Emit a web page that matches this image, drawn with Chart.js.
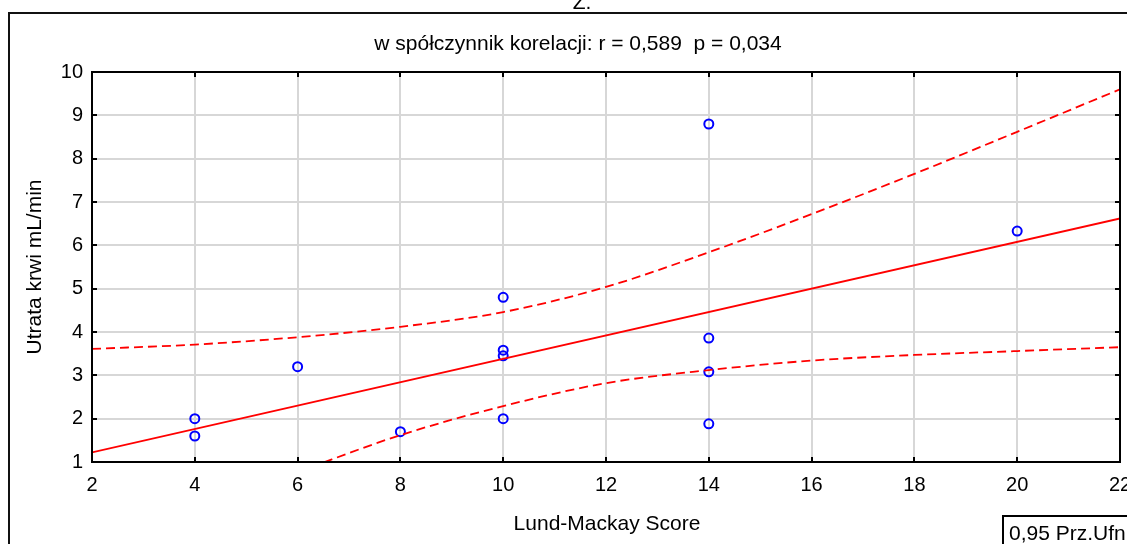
<!DOCTYPE html>
<html>
<head>
<meta charset="utf-8">
<script src="https://cdn.jsdelivr.net/npm/chart.js@4.4.1/dist/chart.umd.min.js"></script>
<style>
  html, body { margin: 0; padding: 0; background: #fff; overflow: hidden; }
  #wrap { width: 1127px; height: 544px; position: relative; }
</style>
</head>
<body>
<div id="wrap"><canvas id="c"></canvas></div>
<script>
// Lund-Mackay score vs. blood loss (mL/min)
const lundMackay = [4, 4, 6, 8, 10, 10, 10, 10, 14, 14, 14, 14, 20];
const bloodLoss = [2.0, 1.6, 3.2, 1.7, 4.8, 3.58, 3.45, 2.0, 8.8, 3.86, 3.08, 1.88, 6.33];

// regression line
const fitX = [2, 22];
const fitY = [1.22, 6.62];

// 0.95 confidence band
const bandX = [2, 4, 6, 8, 10, 12, 14, 16, 18, 20, 22];
const upperBand = [3.61, 3.71, 3.88, 4.12, 4.46, 5.04, 5.84, 6.72, 7.65, 8.62, 9.6];
const lowerBand = [null, null, 0.77, 1.62, 2.29, 2.82, 3.12, 3.34, 3.47, 3.56, 3.65];

const xTicks = [2, 4, 6, 8, 10, 12, 14, 16, 18, 20, 22];
const yTicks = [1, 2, 3, 4, 5, 6, 7, 8, 9, 10];

const titleText = 'w spółczynnik korelacji: r = 0,589  p = 0,034';
const xTitle = 'Lund-Mackay Score';
const yTitle = 'Utrata krwi mL/min';
const legendText = '0,95 Prz.Ufn';

const FONT = '"Liberation Sans", Arial, sans-serif';
Chart.defaults.font.family = FONT;
Chart.defaults.font.size = 20;
Chart.defaults.color = '#000';

function pts(xs, ys) {
  return xs.map((x, i) => ({ x: x, y: ys[i] })).filter(p => p.y !== null);
}

const framePlugin = {
  id: 'frame',
  beforeDraw(chart) {
    const ctx = chart.ctx;
    ctx.save();
    ctx.fillStyle = '#fff';
    ctx.fillRect(0, 0, chart.width, chart.height);
    // outer panel frame
    ctx.strokeStyle = '#111';
    ctx.lineWidth = 2;
    ctx.beginPath();
    ctx.moveTo(9, chart.height + 2);
    ctx.lineTo(9, 13);
    ctx.lineTo(chart.width + 2, 13);
    ctx.stroke();
    ctx.fillStyle = '#000';
    ctx.textAlign = 'center';
    ctx.textBaseline = 'alphabetic';
    ctx.font = '21px ' + FONT;
    ctx.fillText('Z.', 582, 9);
    ctx.textBaseline = 'middle';
    ctx.fillText(titleText, 578, 44);
    ctx.restore();
  },
  afterDraw(chart) {
    const ctx = chart.ctx;
    const a = chart.chartArea;
    const xs = chart.scales.x, ys = chart.scales.y;
    ctx.save();
    ctx.strokeStyle = '#000';
    ctx.lineWidth = 2;
    ctx.strokeRect(a.left, a.top, a.right - a.left, a.bottom - a.top);
    // inward ticks on all four sides
    ctx.beginPath();
    xTicks.forEach(v => {
      const px = Math.round(xs.getPixelForValue(v));
      ctx.moveTo(px, a.top); ctx.lineTo(px, a.top + 5);
      ctx.moveTo(px, a.bottom); ctx.lineTo(px, a.bottom - 5);
    });
    yTicks.forEach(v => {
      const py = Math.round(ys.getPixelForValue(v));
      ctx.moveTo(a.left, py); ctx.lineTo(a.left + 5, py);
      ctx.moveTo(a.right, py); ctx.lineTo(a.right - 5, py);
    });
    ctx.stroke();

    ctx.fillStyle = '#000';
    ctx.font = '21px ' + FONT;
    ctx.textAlign = 'center';
    ctx.textBaseline = 'middle';
    ctx.fillText(xTitle, 607, 524);
    ctx.save();
    ctx.translate(35, 267);
    ctx.rotate(-Math.PI / 2);
    ctx.fillText(yTitle, 0, 0);
    ctx.restore();

    // legend box
    ctx.lineWidth = 2;
    ctx.strokeRect(1003, 516, 140, 40);
    ctx.textAlign = 'left';
    ctx.fillText(legendText, 1009, 534);
    ctx.restore();
  }
};

new Chart(document.getElementById('c'), {
  type: 'scatter',
  data: {
    datasets: [
      {
        label: 'upper',
        data: pts(bandX, upperBand),
        showLine: true,
        borderColor: '#ff0000',
        borderWidth: 1.8,
        borderDash: [9, 5],
        pointRadius: 0,
        cubicInterpolationMode: 'monotone'
      },
      {
        label: 'lower',
        data: pts(bandX, lowerBand),
        showLine: true,
        borderColor: '#ff0000',
        borderWidth: 1.8,
        borderDash: [9, 5],
        pointRadius: 0,
        cubicInterpolationMode: 'monotone'
      },
      {
        label: 'fit',
        data: pts(fitX, fitY),
        showLine: true,
        borderColor: '#ff0000',
        borderWidth: 1.8,
        pointRadius: 0
      },
      {
        label: 'data',
        data: pts(lundMackay, bloodLoss),
        pointRadius: 4.5,
        pointBorderWidth: 2,
        borderColor: '#0000ff',
        backgroundColor: 'rgba(0,0,0,0)'
      }
    ]
  },
  options: {
    responsive: true,
    maintainAspectRatio: false,
    animation: false,
    devicePixelRatio: 1,
    layout: { padding: { top: 72, right: 7, left: 0, bottom: 0 } },
    plugins: {
      legend: { display: false },
      tooltip: { enabled: false }
    },
    scales: {
      x: {
        type: 'linear',
        min: 2,
        max: 22,
        afterBuildTicks: s => { s.ticks = xTicks.map(v => ({ value: v })); },
        afterFit: s => { s.height = 82; s.paddingLeft = 0; s.paddingRight = 0; },
        grid: { color: '#d7d7d7', lineWidth: 2, drawTicks: false },
        border: { display: false },
        ticks: { padding: 11, maxRotation: 0, autoSkip: false, font: { size: 20 } }
      },
      y: {
        type: 'linear',
        min: 1,
        max: 10,
        afterBuildTicks: s => { s.ticks = yTicks.map(v => ({ value: v })); },
        afterFit: s => { s.width = 92; s.paddingTop = 0; s.paddingBottom = 0; },
        grid: { color: '#d7d7d7', lineWidth: 2, drawTicks: false },
        border: { display: false },
        ticks: { padding: 9, autoSkip: false, font: { size: 20 } }
      }
    }
  },
  plugins: [framePlugin]
});
</script>
</body>
</html>
